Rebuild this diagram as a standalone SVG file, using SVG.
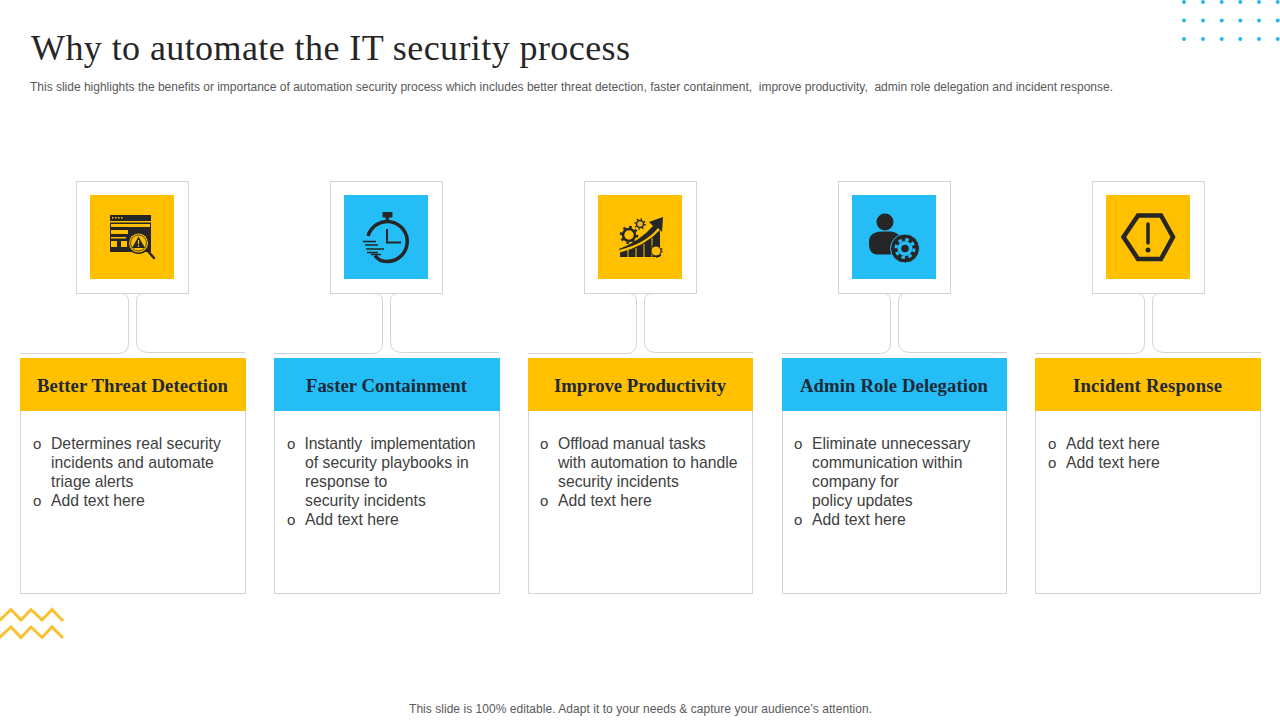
<svg xmlns="http://www.w3.org/2000/svg" width="1280" height="720" viewBox="0 0 1280 720">
<style>
.frame{fill:#fff;stroke:#d4d4d4;stroke-width:1}
.card{fill:#fff;stroke:#d4d4d4;stroke-width:1}
.conn{fill:none;stroke:#d4d4d4;stroke-width:1}
.y{fill:#ffc000}.b{fill:#24bdf6}
.ink{fill:#262626}.line{fill:none;stroke:#262626}
.hd{font-family:"Liberation Serif",serif;font-weight:700;font-size:18.7px;fill:#1f2937;text-anchor:middle}
.tx{font-family:"Liberation Sans",Arial,sans-serif;font-size:15.75px;fill:#404040;white-space:pre}
.bu{font-family:"Liberation Sans",Arial,sans-serif;font-size:15px;fill:#404040}
.dot{fill:#29b6e6}
.zig{fill:none;stroke:#fbc02d;stroke-width:3}
</style>
<rect width="1280" height="720" fill="#fff"/>
<g id="dots">
<g class="dot">
<circle cx="1184" cy="2" r="2"/><circle cx="1203" cy="2" r="2"/><circle cx="1221.7" cy="2" r="2"/><circle cx="1240.3" cy="2" r="2"/><circle cx="1259" cy="2" r="2"/><circle cx="1277.7" cy="2" r="2"/>
<circle cx="1184" cy="20.6" r="2"/><circle cx="1203" cy="20.6" r="2"/><circle cx="1221.7" cy="20.6" r="2"/><circle cx="1240.3" cy="20.6" r="2"/><circle cx="1259" cy="20.6" r="2"/><circle cx="1277.7" cy="20.6" r="2"/>
<circle cx="1184" cy="39" r="2"/><circle cx="1203" cy="39" r="2"/><circle cx="1221.7" cy="39" r="2"/><circle cx="1240.3" cy="39" r="2"/><circle cx="1259" cy="39" r="2"/><circle cx="1277.7" cy="39" r="2"/>
</g>
</g>
<g id="zigzag">
<path class="zig" d="M-1,621 L11,609.5 L21,620 L31,609.5 L42,620 L52,609.5 L63,621"/>
<path class="zig" d="M-1,638 L11,627 L21,637.5 L31,627 L42,637.5 L52,627 L63,638"/>
</g>
<text id="title" x="31" y="60" font-family="Liberation Serif, serif" font-size="36" fill="#262626" textLength="599" lengthAdjust="spacing">Why to automate the IT security process</text>
<text id="subtitle" x="30" y="91" font-family="Liberation Sans, Arial, sans-serif" font-size="12" fill="#595959" textLength="1083" lengthAdjust="spacing" style="white-space:pre">This slide highlights the benefits or importance of automation security process which includes better threat detection, faster containment,  improve productivity,  admin role delegation and incident response.</text>

<g id="connectors">
<path class="conn" d="M20,353.500 H118 Q128.500,353.500 128.500,343 V301 Q128.500,293.500 121,293.500"/>
<path class="conn" d="M245,352.500 H148 Q136.500,352.500 136.500,341 V301 Q136.500,293.500 144,293.500"/>
<path class="conn" d="M274,353.500 H372 Q382.500,353.500 382.500,343 V301 Q382.500,293.500 375,293.500"/>
<path class="conn" d="M499,352.500 H402 Q390.500,352.500 390.500,341 V301 Q390.500,293.500 398,293.500"/>
<path class="conn" d="M528,353.500 H626 Q636.500,353.500 636.500,343 V301 Q636.500,293.500 629,293.500"/>
<path class="conn" d="M753,352.500 H656 Q644.500,352.500 644.500,341 V301 Q644.500,293.500 652,293.500"/>
<path class="conn" d="M782,353.500 H880 Q890.500,353.500 890.500,343 V301 Q890.500,293.500 883,293.500"/>
<path class="conn" d="M1007,352.500 H910 Q898.500,352.500 898.500,341 V301 Q898.500,293.500 906,293.500"/>
<path class="conn" d="M1035,353.500 H1134 Q1144.500,353.500 1144.500,343 V301 Q1144.500,293.500 1137,293.500"/>
<path class="conn" d="M1261,352.500 H1164 Q1152.500,352.500 1152.500,341 V301 Q1152.500,293.500 1160,293.500"/>
</g>

<g id="node-1">
<rect class="frame" x="76.500" y="181.500" width="112" height="112"/>
<rect class="y" x="90" y="195" width="84" height="84"/>
<g>
<rect class="ink" x="110" y="215" width="41" height="37"/>
<rect class="y" x="110" y="221" width="41" height="1.500"/>
<rect class="y" x="111" y="224" width="39" height="3"/>
<rect class="y" x="111" y="230" width="17" height="4"/>
<rect class="y" x="111" y="237" width="15" height="1.500"/>
<rect class="y" x="111" y="241" width="6" height="6"/>
<rect class="y" x="121" y="241" width="6" height="6"/>
<rect class="y" x="112" y="217" width="1.500" height="1.500"/><rect class="y" x="115" y="217" width="1.500" height="1.500"/><rect class="y" x="118" y="217" width="1.500" height="1.500"/><rect class="y" x="121" y="217" width="1.500" height="1.500"/>
<circle cx="138.500" cy="243" r="11" class="ink"/>
<circle cx="138.500" cy="243" r="9.500" class="y"/>
<circle cx="138.500" cy="243" r="8" class="y" stroke="#262626" stroke-width="0.800"/>
<path class="ink" d="M138.500,236.500 L145,248 H132 Z"/>
<path d="M138.500,240 V244.500 M138.500,245.500 V247" stroke="#ffc000" stroke-width="1.200"/>
<path d="M147,250 L154,258" stroke="#262626" stroke-width="2.500" stroke-linecap="round"/>
</g>
</g>

<g id="node-2">
<rect class="frame" x="330.500" y="181.500" width="112" height="112"/>
<rect class="b" x="344" y="195" width="84" height="84"/>
<g>
<path class="line" stroke-width="3.500" d="M375,255.500 C378,260 382,261.500 387,261.500 A20,20 0 1 0 368,236"/>
<rect class="ink" x="382.500" y="212" width="10" height="5.500" rx="1"/>
<rect class="ink" x="385.500" y="216" width="3.500" height="6"/>
<path class="line" stroke-width="2" d="M387,229 V242.500 H401"/>
<path class="line" stroke-width="1.500" d="M363,241.500 H376 M365,245 H378 M366,249 H384 M367,252.500 H378 M371,254.500 H381"/>
</g>
</g>

<g id="node-3">
<rect class="frame" x="584.500" y="181.500" width="112" height="112"/>
<rect class="y" x="598" y="195" width="84" height="84"/>
<g>
<path class="ink" d="M619,249 Q640,241 653,226 L649,222 L663,217 L662,232 L658,228 Q645,244 619,250 Z"/>
<path class="ink" d="M620,252.500 Q645,246 660,230 V257 H620 Z"/>
<path d="M628,250 V257 M636,248 V257 M644,244 V257 M652,238 V257" stroke="#ffc000" stroke-width="1" fill="none"/>
<circle cx="629" cy="235" r="6" fill="none" stroke="#262626" stroke-width="2.500"/>
<circle cx="629" cy="235" r="8" fill="none" stroke="#262626" stroke-width="2.500" stroke-dasharray="2.500 3.780"/>
<circle cx="640" cy="224" r="3.500" fill="#e8b52a" stroke="#262626" stroke-width="1.500"/>
<circle cx="640" cy="224" r="5" fill="none" stroke="#262626" stroke-width="1.500" stroke-dasharray="1.500 2.430"/>
<circle cx="656" cy="251" r="5" fill="#ffc000" stroke="#262626" stroke-width="1"/>
<circle cx="656" cy="251" r="6" fill="none" stroke="#262626" stroke-width="1.500" stroke-dasharray="1.500 2.270"/>
</g>
</g>

<g id="node-4">
<rect class="frame" x="838.500" y="181.500" width="112" height="112"/>
<rect class="b" x="852" y="195" width="84" height="84"/>
<g>
<circle class="ink" cx="885" cy="222" r="8.500"/>
<path class="ink" d="M869,245 V241 C869,235 875,231.500 881,231.500 H889 C895,231.500 899,234 900,237 L895,254.500 H877 C872,254.500 869,250 869,245 Z"/>
<circle class="ink" cx="905" cy="248.500" r="14.500" stroke="#24bdf6" stroke-width="1"/>
<circle cx="905" cy="248.500" r="7.500" fill="#24bdf6"/>
<circle cx="905" cy="248.500" r="9" fill="none" stroke="#24bdf6" stroke-width="3" stroke-dasharray="3.500 3.570"/>
<circle class="ink" cx="905" cy="248.500" r="3.800"/>
</g>
</g>

<g id="node-5">
<rect class="frame" x="1092.500" y="181.500" width="112" height="112"/>
<rect class="y" x="1106" y="195" width="84" height="84"/>
<g>
<path class="line" stroke-width="4.500" stroke-linejoin="miter" d="M1138,215.500 H1161 L1173,237 L1161,259 H1138 L1123.500,237 Z"/>
<path d="M1148,224 V243" stroke="#262626" stroke-width="3.500" stroke-linecap="round"/>
<circle class="ink" cx="1148" cy="250" r="2.500"/>
</g>
</g>

<g id="card-1">
<rect class="card" x="20.500" y="358.500" width="225" height="235"/>
<rect class="y" x="20" y="358" width="226" height="53"/>
<text class="hd" x="132.500" y="392" textLength="191">Better Threat Detection</text>
<text class="bu" x="33" y="449">o</text>
<text class="tx" x="51" y="449">Determines real security</text>
<text class="tx" x="51" y="468">incidents and automate</text>
<text class="tx" x="51" y="487">triage alerts</text>
<text class="bu" x="33" y="506">o</text>
<text class="tx" x="51" y="506">Add text here</text>
</g>

<g id="card-2">
<rect class="card" x="274.500" y="358.500" width="225" height="235"/>
<rect class="b" x="274" y="358" width="226" height="53"/>
<text class="hd" x="386.500" y="392" textLength="161">Faster Containment</text>
<text class="bu" x="287" y="449">o</text>
<text class="tx" x="304.500" y="449" textLength="171">Instantly  implementation</text>
<text class="tx" x="305" y="468">of security playbooks in</text>
<text class="tx" x="305" y="487">response to</text>
<text class="tx" x="305" y="506">security incidents</text>
<text class="bu" x="287" y="525">o</text>
<text class="tx" x="305" y="525">Add text here</text>
</g>

<g id="card-3">
<rect class="card" x="528.500" y="358.500" width="224" height="235"/>
<rect class="y" x="528" y="358" width="225" height="53"/>
<text class="hd" x="640" y="392" textLength="172">Improve Productivity</text>
<text class="bu" x="540" y="449">o</text>
<text class="tx" x="558" y="449">Offload manual tasks</text>
<text class="tx" x="558" y="468">with automation to handle</text>
<text class="tx" x="558" y="487">security incidents</text>
<text class="bu" x="540" y="506">o</text>
<text class="tx" x="558" y="506">Add text here</text>
</g>

<g id="card-4">
<rect class="card" x="782.500" y="358.500" width="224" height="235"/>
<rect class="b" x="782" y="358" width="225" height="53"/>
<text class="hd" x="894" y="392" textLength="188">Admin Role Delegation</text>
<text class="bu" x="794" y="449">o</text>
<text class="tx" x="812" y="449">Eliminate unnecessary</text>
<text class="tx" x="812" y="468">communication within</text>
<text class="tx" x="812" y="487">company for</text>
<text class="tx" x="812" y="506">policy updates</text>
<text class="bu" x="794" y="525">o</text>
<text class="tx" x="812" y="525">Add text here</text>
</g>

<g id="card-5">
<rect class="card" x="1035.500" y="358.500" width="225" height="235"/>
<rect class="y" x="1035" y="358" width="226" height="53"/>
<text class="hd" x="1147.500" y="392" textLength="149">Incident Response</text>
<text class="bu" x="1048" y="449">o</text>
<text class="tx" x="1066" y="449">Add text here</text>
<text class="bu" x="1048" y="468">o</text>
<text class="tx" x="1066" y="468">Add text here</text>
</g>

<text id="footer" x="640.500" y="713" text-anchor="middle" font-family="Liberation Sans, Arial, sans-serif" font-size="12" fill="#595959" textLength="463">This slide is 100% editable. Adapt it to your needs &amp; capture your audience’s attention.</text>
</svg>
